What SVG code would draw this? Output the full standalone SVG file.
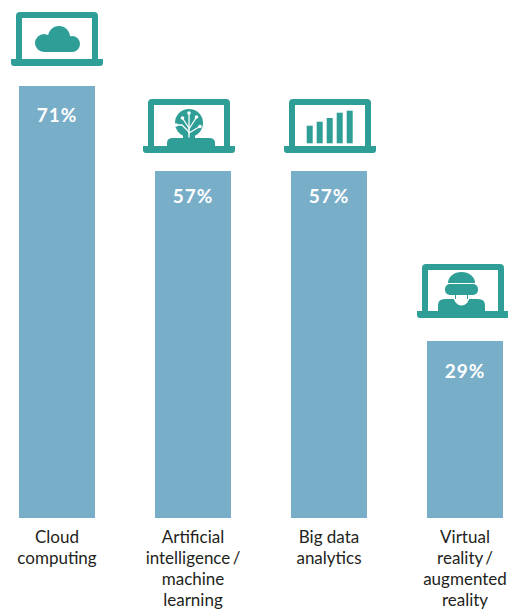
<svg xmlns="http://www.w3.org/2000/svg" xmlns:xlink="http://www.w3.org/1999/xlink" width="508" height="610" viewBox="0 0 508 610">
<style>
.bar{fill:#79AEC8}
.teal{fill:#2F9E96}
.pct{font-family:Lato,"Liberation Sans",sans-serif;font-weight:bold;font-size:19px;fill:#fff;text-anchor:middle;letter-spacing:1px}
.lbl{font-family:Lato,"Liberation Sans",sans-serif;font-size:17px;fill:#231F20;text-anchor:middle}
.tight{word-spacing:-2px}
.wl{stroke:#fff;stroke-width:1.3;fill:none;stroke-linecap:round}
</style>
<defs>
<g id="laptop">
<rect x="0" y="0" width="82" height="50" rx="4" class="teal"/>
<rect x="6" y="6" width="70" height="41" fill="#fff"/>
<path d="M-5 47 H87 V51 Q87 54 84 54 H-2 Q-5 54 -5 51 Z" class="teal"/>
</g>
</defs>
<rect width="508" height="610" fill="#fff"/>

<g id="node-cloud">
<use xlink:href="#laptop" href="#laptop" transform="translate(16,12)"/>
<g class="teal">
<circle cx="59" cy="37" r="11"/>
<circle cx="44" cy="43" r="9"/>
<circle cx="72" cy="44" r="8"/>
<rect x="44" y="40" width="28" height="12"/>
</g>
<rect x="19" y="86" width="76" height="432" class="bar"/>
<text x="57" y="122" class="pct">71%</text>
<text class="lbl" x="57" y="543">Cloud</text>
<text class="lbl" x="57" y="564">computing</text>
</g>

<g id="node-ai">
<use xlink:href="#laptop" href="#laptop" transform="translate(148,99)"/>
<g class="teal">
<path d="M167 146 V143 Q167 138 173 138 H209 Q215 138 215 143 V146 Z"/>
<circle cx="189" cy="123" r="14"/>
<rect x="183" y="132" width="12" height="7"/>
</g>
<g class="wl">
<path d="M189 137 V114"/>
<path d="M189 132 L182 125 H177"/>
<path d="M189 128 L183 119"/>
<path d="M189 129 L196 118"/>
<path d="M189 133 L199 127"/>
</g>
<g fill="#fff">
<circle cx="189" cy="113" r="1.8"/>
<circle cx="176" cy="125" r="1.8"/>
<circle cx="182.5" cy="118" r="1.8"/>
<circle cx="196.5" cy="117" r="1.8"/>
<circle cx="200" cy="126.5" r="1.8"/>
</g>
<rect x="155" y="171" width="76" height="347" class="bar"/>
<text x="193" y="203" class="pct">57%</text>
<text class="lbl" x="193" y="543">Artificial</text>
<text class="lbl tight" x="193" y="564">intelligence /</text>
<text class="lbl" x="193" y="585">machine</text>
<text class="lbl" x="193" y="606">learning</text>
</g>

<g id="node-bigdata">
<use xlink:href="#laptop" href="#laptop" transform="translate(289,99)"/>
<g class="teal">
<rect x="306.7" y="125.7" width="6" height="17.6"/>
<rect x="316.7" y="121.7" width="6" height="21.6"/>
<rect x="326.7" y="118" width="6" height="25.3"/>
<rect x="336.7" y="112.7" width="6" height="30.6"/>
<rect x="346.7" y="110.7" width="6" height="32.6"/>
</g>
<rect x="291" y="171" width="76" height="347" class="bar"/>
<text x="329" y="203" class="pct">57%</text>
<text class="lbl" x="329" y="543">Big data</text>
<text class="lbl" x="329" y="564">analytics</text>
</g>

<g id="node-vr">
<use xlink:href="#laptop" href="#laptop" transform="translate(422,264)"/>
<path class="teal" d="M438 311 V305 Q438 299 445 299 H478 Q485 299 485 305 V311 Z"/>
<ellipse cx="461.5" cy="296" rx="8" ry="9.5" fill="#fff"/>
<path d="M455.5 294 V299 M467.5 294 V299" stroke="#2F9E96" stroke-width="1"/>
<rect x="445" y="284" width="33" height="11" rx="5" class="teal"/>
<path class="teal" d="M448 283 A13.5 11 0 0 1 475 283 Z"/>
<rect x="427" y="341" width="76" height="177" class="bar"/>
<text x="465" y="378" class="pct">29%</text>
<text class="lbl" x="465" y="543">Virtual</text>
<text class="lbl tight" x="465" y="564">reality /</text>
<text class="lbl" x="465" y="585">augmented</text>
<text class="lbl" x="465" y="606">reality</text>
</g>

<g id="connectors"/>
</svg>
